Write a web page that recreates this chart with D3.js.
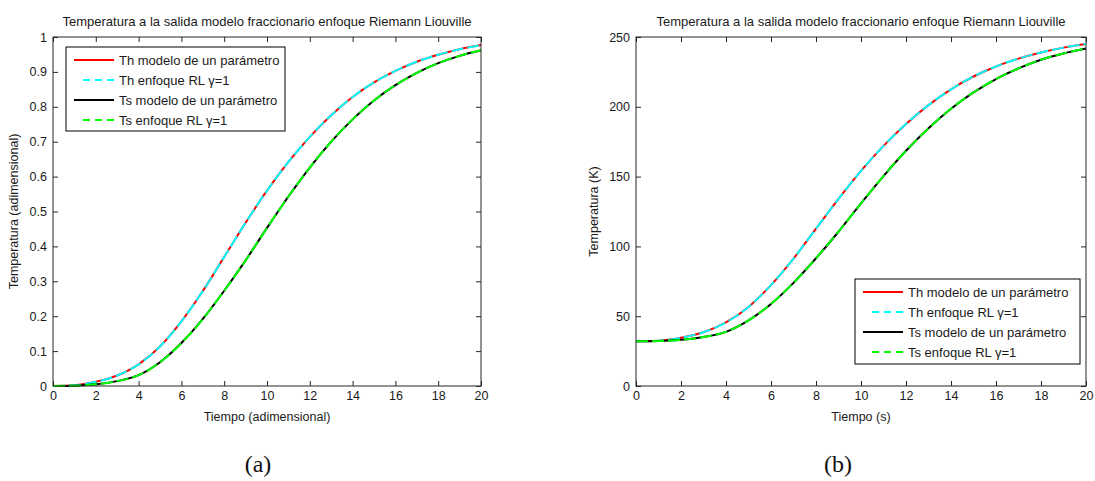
<!DOCTYPE html>
<html>
<head>
<meta charset="utf-8">
<script src="https://cdn.jsdelivr.net/npm/d3@7"></script>
<style>
  html, body { margin: 0; padding: 0; background: #fff; }
  svg { display: block; }
  text { font-family: "Liberation Sans", Arial, Helvetica, sans-serif; fill: #1a1a1a; }
  text.caption { font-family: "Liberation Serif", "DejaVu Serif", serif; fill: #111; }
</style>
</head>
<body>
<svg id="fig" width="1095" height="481"></svg>
<script>
// Time samples (same grid for both panels)
const tiempo = [0,1,2,3,4,5,6,7,8,9,10,11,12,13,14,15,16,17,18,19,20];

// Panel (a): dimensionless outlet temperatures
const thModeloAdim = [0,0.002,0.012,0.030,0.062,0.113,0.185,0.272,0.370,0.468,0.560,0.642,0.714,0.776,0.828,0.870,0.903,0.929,0.949,0.965,0.977];
const thRLAdim     = [0,0.002,0.012,0.030,0.062,0.113,0.185,0.272,0.370,0.468,0.560,0.642,0.714,0.776,0.828,0.870,0.903,0.929,0.949,0.965,0.977];
const tsModeloAdim = [0,0.001,0.005,0.014,0.031,0.068,0.123,0.192,0.273,0.360,0.453,0.543,0.626,0.700,0.764,0.818,0.862,0.897,0.925,0.946,0.962];
const tsRLAdim     = [0,0.001,0.005,0.014,0.031,0.068,0.123,0.192,0.273,0.360,0.453,0.543,0.626,0.700,0.764,0.818,0.862,0.897,0.925,0.946,0.962];

// Panel (b): outlet temperatures in kelvin
const thModeloK = [32.0,32.4,34.6,38.5,45.5,56.6,72.3,91.3,112.7,134.0,154.1,172.0,187.7,201.2,212.5,221.7,228.9,234.5,238.9,242.4,245.0];
const thRLK     = [32.0,32.4,34.6,38.5,45.5,56.6,72.3,91.3,112.7,134.0,154.1,172.0,187.7,201.2,212.5,221.7,228.9,234.5,238.9,242.4,245.0];
const tsModeloK = [32.0,32.2,33.1,35.1,38.8,47.0,58.8,73.9,91.5,110.5,130.8,150.4,168.5,184.6,198.6,210.3,219.9,227.5,233.7,238.2,241.7];
const tsRLK     = [32.0,32.2,33.1,35.1,38.8,47.0,58.8,73.9,91.5,110.5,130.8,150.4,168.5,184.6,198.6,210.3,219.9,227.5,233.7,238.2,241.7];

// Tick values and labels
const xTicks = [0,2,4,6,8,10,12,14,16,18,20];
const yTicksAdim = [0,0.1,0.2,0.3,0.4,0.5,0.6,0.7,0.8,0.9,1];
const yTicksK = [0,50,100,150,200,250];

const titulo = "Temperatura a la salida modelo fraccionario enfoque Riemann Liouville";
const leyenda = ["Th modelo de un parámetro", "Th enfoque RL γ=1", "Ts modelo de un parámetro", "Ts enfoque RL γ=1"];

const svg = d3.select("#fig");

function panel(cfg) {
  const g = svg.append("g");
  const x = d3.scaleLinear().domain([0, 20]).range([cfg.left, cfg.right]);
  const y = d3.scaleLinear().domain(cfg.yDomain).range([cfg.bottom, cfg.top]);
  const tl = 5;

  // axes with inward ticks on all four sides
  const bottom = g.append("g").attr("transform", `translate(0,${cfg.bottom})`)
    .call(d3.axisBottom(x).tickValues(xTicks).tickSize(-tl).tickPadding(5).tickFormat(d3.format("d")));
  const top = g.append("g").attr("transform", `translate(0,${cfg.top})`)
    .call(d3.axisTop(x).tickValues(xTicks).tickSize(-tl).tickFormat(""));
  const left = g.append("g").attr("transform", `translate(${cfg.left},0)`)
    .call(d3.axisLeft(y).tickValues(cfg.yTicks).tickSize(-tl).tickPadding(6).tickFormat(cfg.yFormat));
  const right = g.append("g").attr("transform", `translate(${cfg.right},0)`)
    .call(d3.axisRight(y).tickValues(cfg.yTicks).tickSize(-tl).tickFormat(""));
  [bottom, top, left, right].forEach(a => {
    a.select(".domain").remove();
    a.selectAll(".tick line").attr("stroke", "#262626").attr("stroke-width", 1);
    a.selectAll(".tick text").attr("font-size", 12.5).attr("fill", "#1a1a1a");
  });

  // curves
  const line = d3.line().x((d, i) => x(tiempo[i])).y(d => y(d)).curve(d3.curveMonotoneX);
  const series = [
    { v: cfg.th, color: "#ff0000", dash: null },
    { v: cfg.thRL, color: "#00ffff", dash: "12,4" },
    { v: cfg.ts, color: "#000000", dash: null },
    { v: cfg.tsRL, color: "#00ff00", dash: "12,4" }
  ];
  series.forEach(s => {
    g.append("path").datum(s.v).attr("d", line)
      .attr("fill", "none").attr("stroke", s.color).attr("stroke-width", 2)
      .attr("stroke-dasharray", s.dash);
  });

  // axes box
  g.append("rect").attr("x", cfg.left).attr("y", cfg.top)
    .attr("width", cfg.right - cfg.left).attr("height", cfg.bottom - cfg.top)
    .attr("fill", "none").attr("stroke", "#262626").attr("stroke-width", 1);

  // title and labels
  const cx = (cfg.left + cfg.right) / 2;
  g.append("text").attr("x", cx).attr("y", 26).attr("text-anchor", "middle")
    .attr("font-size", 13).text(titulo);
  g.append("text").attr("x", cx).attr("y", 421).attr("text-anchor", "middle")
    .attr("font-size", 12.5).text(cfg.xLabel);
  g.append("text")
    .attr("transform", `translate(${cfg.yLabelX},${(cfg.top + cfg.bottom) / 2}) rotate(-90)`)
    .attr("text-anchor", "middle").attr("font-size", 12.5).text(cfg.yLabel);
  g.append("text").attr("class", "caption").attr("x", cfg.capX).attr("y", 472)
    .attr("text-anchor", "middle").attr("font-size", 24).text(cfg.caption);

  // legend
  const L = cfg.legend;
  const lg = g.append("g").attr("transform", `translate(${L.x},${L.y})`);
  lg.append("rect").attr("width", L.w).attr("height", L.h)
    .attr("fill", "#fff").attr("stroke", "#000").attr("stroke-width", 1);
  series.forEach((s, i) => {
    const yy = 13 + i * 20;
    lg.append("line")
      .attr("x1", s.dash ? 17 : 8).attr("x2", 48).attr("y1", yy).attr("y2", yy)
      .attr("stroke", s.color).attr("stroke-width", 2)
      .attr("stroke-dasharray", s.dash ? "7,5" : null);
    lg.append("text").attr("x", 53).attr("y", yy + 4.5).attr("font-size", 13).text(leyenda[i]);
  });
}

panel({
  left: 53, right: 481, top: 37, bottom: 386,
  yDomain: [0, 1], yTicks: yTicksAdim,
  yFormat: d => String(+d.toFixed(1)),
  th: thModeloAdim, thRL: thRLAdim, ts: tsModeloAdim, tsRL: tsRLAdim,
  xLabel: "Tiempo (adimensional)", yLabel: "Temperatura (adimensional)", yLabelX: 18,
  caption: "(a)", capX: 258,
  legend: { x: 66, y: 47, w: 219, h: 84 }
});

panel({
  left: 636, right: 1086, top: 37, bottom: 386,
  yDomain: [0, 250], yTicks: yTicksK,
  yFormat: d3.format("d"),
  th: thModeloK, thRL: thRLK, ts: tsModeloK, tsRL: tsRLK,
  xLabel: "Tiempo (s)", yLabel: "Temperatura (K)", yLabelX: 598,
  caption: "(b)", capX: 838,
  legend: { x: 855, y: 279, w: 225, h: 85 }
});
</script>
</body>
</html>
